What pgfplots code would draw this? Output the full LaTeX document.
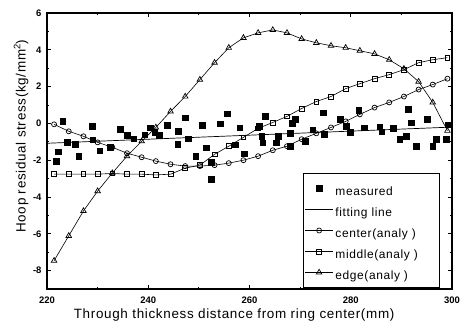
\documentclass[border=0pt]{standalone}
\usepackage{fontspec}
\setmainfont{Liberation Sans}
\newfontfamily\spaced[LetterSpace=5.0]{Liberation Sans}
\usepackage{pgfplots}
\usepackage{pgfplotstable}
\pgfplotsset{compat=1.18}

\pgfplotstableread{
x y
221.8 -2.05
222.2 -1.54
223.1 0.12
224.0 -1.03
225.6 -1.14
226.3 -1.78
228.9 -0.15
229.0 -0.89
230.4 -1.49
232.5 -1.30
234.4 -0.32
235.9 -0.65
237.1 -0.84
239.3 -0.62
240.4 -0.23
241.3 -0.49
242.2 -0.65
243.8 -0.11
245.9 -0.43
245.8 -1.14
247.3 0.30
247.9 -0.83
249.4 -1.78
250.7 -0.11
251.5 -1.31
252.4 -2.12
252.4 -3.02
254.2 -0.02
255.6 0.53
258.1 -0.23
257.2 -1.15
258.9 -1.64
261.9 -0.16
262.4 -0.69
262.6 -1.05
263.1 0.38
265.3 -1.04
265.7 -0.69
268.0 -0.54
268.0 -1.23
268.4 0.00
269.0 0.24
271.0 -0.97
272.5 -0.35
274.5 0.58
274.7 -0.59
277.9 0.22
279.1 -0.15
279.9 -0.49
281.6 0.73
282.7 -0.23
285.7 -0.19
286.1 -0.46
288.4 -0.27
289.7 -0.86
290.9 -0.69
291.3 0.76
291.9 0.04
292.9 -1.23
295.1 0.24
296.2 -1.23
296.9 -0.86
298.9 -0.86
299.3 -0.08
}\measured

\pgfplotstableread{
x center middle edge
221.4 -0.05 -2.76 -7.46
224.3 -0.43 -2.76 -6.11
227.2 -0.70 -2.76 -4.76
230.0 -1.03 -2.76 -3.68
232.9 -1.30 -2.72 -2.70
235.8 -1.62 -2.76 -1.78
238.7 -1.84 -2.76 -0.97
241.5 -2.05 -2.80 -0.22
244.4 -2.22 -2.76 0.65
247.3 -2.32 -2.43 1.46
250.2 -2.32 -2.27 2.38
253.1 -2.27 -1.68 3.30
255.9 -2.16 -1.24 4.11
258.8 -2.00 -0.76 4.65
261.7 -1.78 -0.27 4.92
264.6 -1.46 0.05 5.08
267.4 -1.24 0.38 4.92
270.3 -0.86 0.81 4.59
273.2 -0.54 1.19 4.38
276.1 -0.22 1.46 4.22
279.0 0.11 1.89 4.11
281.8 0.49 2.16 3.95
284.7 0.86 2.43 3.78
287.6 1.14 2.65 3.46
290.5 1.46 2.92 2.97
293.4 1.84 3.30 2.27
296.2 2.11 3.46 1.14
299.1 2.43 3.57 -0.40
}\analy

\begin{document}
\begin{tikzpicture}
\path[use as bounding box] (-47bp,-37bp) rectangle (415bp,289bp);
\begin{axis}[
  at={(0,0)}, anchor=south west,
  scale only axis, width=405bp, height=276bp,
  xmin=220, xmax=300, ymin=-9, ymax=6,
  xtick={220,240,...,300}, minor xtick={230,250,270,290},
  ytick={-8,-6,...,6}, minor ytick={-9,-7,...,5},
  tick align=inside,
  major tick length=4bp, minor tick length=2.5bp,
  axis line style={line width=1.2bp},
  every tick/.style={black, line width=0.8bp},
  tick label style={font=\fontsize{9.5}{11}\selectfont\bfseries},
  /pgf/number format/assume math mode=true,
  xticklabel style={yshift=-4bp},
  yticklabel style={xshift=-2bp},
  xlabel={\spaced Through thickness distance from ring center(mm)},
  ylabel={\spaced Hoop residual stress(kg/mm\textsuperscript{2})},
  xlabel style={at={(axis description cs:0.462,0)}, anchor=center, yshift=-26bp, font=\fontsize{13.5}{15}\selectfont},
  ylabel style={at={(axis description cs:-0.064,0.554)}, anchor=center, font=\fontsize{13.5}{15}\selectfont},
  legend cell align=left,
  legend image code/.code={\draw[mark repeat=2,mark phase=2,#1] plot coordinates {(0bp,0bp) (14bp,0bp) (28bp,0bp)};},
  legend style={at={(axis description cs:0.970,0.004)}, anchor=south east,
    draw=black, line width=0.8bp, inner xsep=1bp, inner ysep=6bp,
    font=\fontsize{12}{14}\selectfont\spaced, row sep=3bp,
    nodes={text height=15bp, text depth=1bp, inner ysep=1bp, text width=101bp}},
]
\addplot[only marks, mark=square*, mark size=2.8bp, black] table[x=x,y=y] {\measured};
\addlegendentry{measured}
\addplot[black, line width=0.7bp, no marks] coordinates {(220,-1.08) (300,-0.2)};
\addlegendentry{fitting line}
\addplot[black, line width=0.6bp, mark=o, mark size=2.5bp, mark options={solid, fill=white, line width=0.7bp}] table[x=x,y=center] {\analy};
\addlegendentry{center(analy )}
\addplot[black, line width=0.6bp, mark=square, mark size=2.4bp, mark options={solid, fill=white, line width=0.7bp}] table[x=x,y=middle] {\analy};
\addlegendentry{middle(analy )}
\addplot[black, line width=0.6bp, mark=triangle, mark size=3.2bp, mark options={solid, fill=white, line width=0.7bp}] table[x=x,y=edge] {\analy};
\addlegendentry{edge(analy )}
\end{axis}
\end{tikzpicture}
\end{document}
